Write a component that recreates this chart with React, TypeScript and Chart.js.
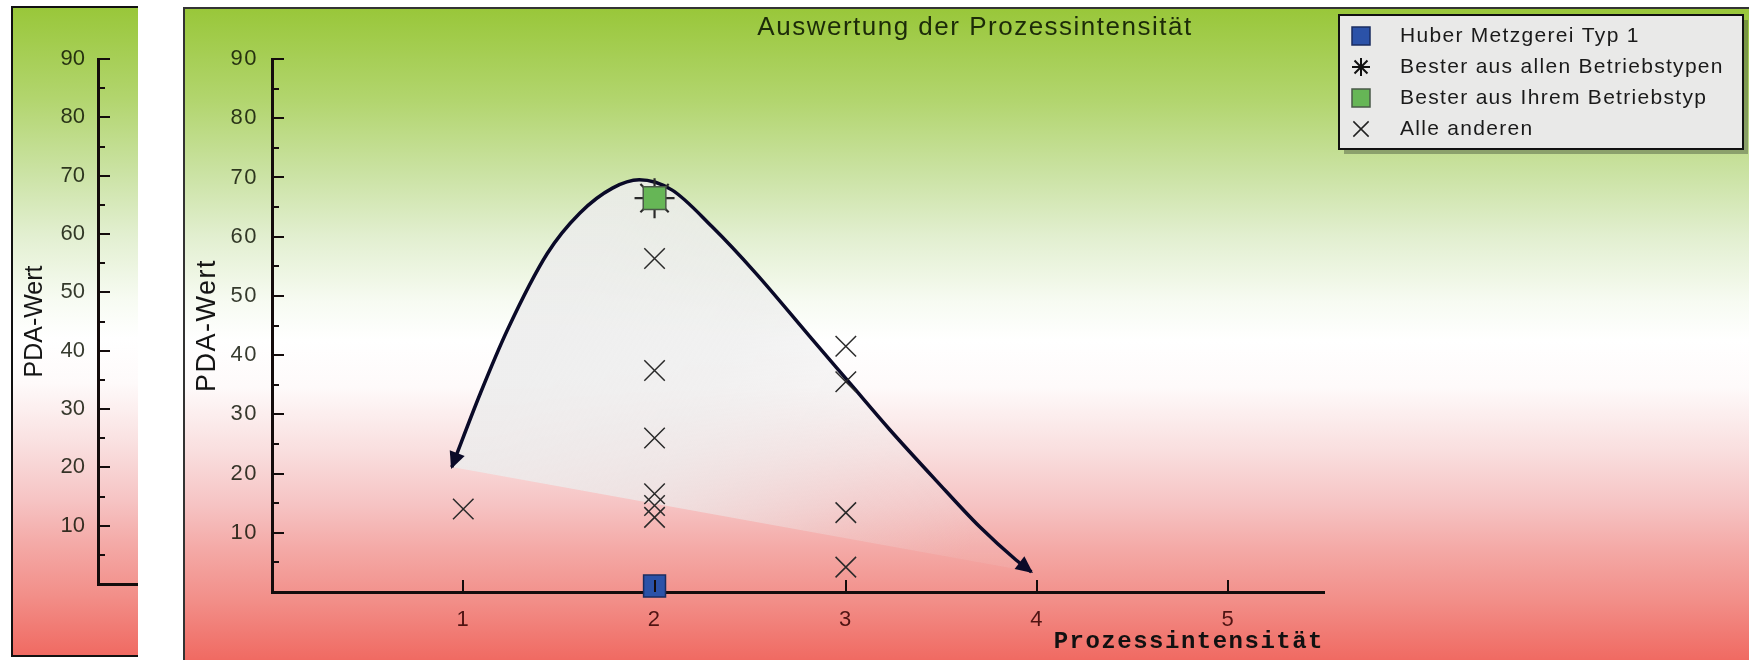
import React, { useEffect, useRef } from 'react';
import { Chart, registerables } from 'chart.js';

Chart.register(...registerables);

// ---------------- data ----------------
const chartTitle = 'Auswertung der Prozessintensität';
const xAxisTitle = 'Prozessintensität';
const yAxisTitle = 'PDA-Wert';

const xRange = [0, 5.5];
const yRange = [0, 90];
const xTickValues = [1, 2, 3, 4, 5];
const yTickValues = [10, 20, 30, 40, 50, 60, 70, 80, 90];
const yMinorTickValues = [5, 15, 25, 35, 45, 55, 65, 75, 85];

const seriesLabels = [
  'Huber Metzgerei Typ 1',
  'Bester aus allen Betriebstypen',
  'Bester aus Ihrem Betriebstyp',
  'Alle anderen',
];

const huberX = [2];
const huberY = [1];
const bestAllX = [2];
const bestAllY = [66.5];
const bestOwnX = [2];
const bestOwnY = [66.5];
const othersX = [1, 2, 2, 2, 2, 2, 2, 3, 3, 3, 3];
const othersY = [14, 56.3, 37.4, 26, 16.6, 14.6, 12.6, 41.5, 35.5, 13.4, 4.2];

// hand-drawn trend arrow
const trendX = [0.94, 1.09, 1.23, 1.44, 1.61, 1.78, 1.92, 2.09, 2.3, 2.53, 2.81, 3.02, 3.23, 3.47, 3.7, 3.89, 3.97];
const trendY = [21.1, 33.6, 44.2, 57.2, 64.0, 68.2, 69.6, 67.9, 61.7, 53.8, 43.2, 35.3, 27.4, 18.9, 11.0, 5.4, 3.4];

// ---------------- styles ----------------
const SANS = '"Liberation Sans", Arial, sans-serif';
const MONO = '"Liberation Mono", "DejaVu Sans Mono", monospace';
const AXIS_COLOR = '#140c0c';
const CURVE_COLOR = '#0a0a28';
const PANEL_GRADIENT =
  'linear-gradient(to bottom, #99c73a 0%, #b2d56e 14%, #cae2a2 25%, #e2efd0 35%, #f7fbf2 45%, #ffffff 51%, #fefafa 58%, #f9dede 68%, #f6c4c4 76%, #f4a9a6 83%, #f28e88 91%, #f06a62 100%)';

const toPoints = (xs: number[], ys: number[]) => xs.map((x, i) => ({ x, y: ys[i] }));

// ---------------- plugins ----------------
const tickMarksPlugin = {
  id: 'tickMarks',
  afterDraw(chart: any, _args: any, opts: any) {
    const { ctx, chartArea, scales } = chart;
    const xs = scales.x;
    const ys = scales.y;
    ctx.save();
    ctx.strokeStyle = opts.color;
    ctx.lineWidth = opts.width;
    ctx.beginPath();
    (opts.yMajor || []).forEach((v: number) => {
      const p = Math.round(ys.getPixelForValue(v));
      ctx.moveTo(chartArea.left, p);
      ctx.lineTo(chartArea.left + opts.majorLength, p);
    });
    (opts.yMinor || []).forEach((v: number) => {
      const p = Math.round(ys.getPixelForValue(v));
      ctx.moveTo(chartArea.left, p);
      ctx.lineTo(chartArea.left + opts.minorLength, p);
    });
    (opts.xMajor || []).forEach((v: number) => {
      const p = Math.round(xs.getPixelForValue(v));
      ctx.moveTo(p, chartArea.bottom);
      ctx.lineTo(p, chartArea.bottom - opts.majorLength);
    });
    ctx.stroke();
    ctx.restore();
  },
};

const arrowHeadsPlugin = {
  id: 'arrowHeads',
  afterDatasetsDraw(chart: any, _args: any, opts: any) {
    if (!opts || opts.datasetIndex === undefined) return;
    const meta = chart.getDatasetMeta(opts.datasetIndex);
    const pts = meta && meta.data;
    if (!pts || pts.length < 2) return;
    const ctx = chart.ctx;
    const head = (tip: any, fromX: number, fromY: number) => {
      let dx = tip.x - fromX;
      let dy = tip.y - fromY;
      const len = Math.hypot(dx, dy) || 1;
      dx /= len;
      dy /= len;
      const L = opts.length;
      const W = opts.halfWidth;
      const tx = tip.x + dx * 2;
      const ty = tip.y + dy * 2;
      const bx = tx - dx * L;
      const by = ty - dy * L;
      ctx.beginPath();
      ctx.moveTo(tx, ty);
      ctx.lineTo(bx - dy * W, by + dx * W);
      ctx.lineTo(bx + dy * W, by - dx * W);
      ctx.closePath();
      ctx.fill();
    };
    ctx.save();
    ctx.fillStyle = opts.color;
    const first = pts[0];
    const second = pts[1];
    const last = pts[pts.length - 1];
    const prev = pts[pts.length - 2];
    const okFirst = Number.isFinite(first.cp2x) && Math.hypot(first.cp2x - first.x, first.cp2y - first.y) > 0.5;
    head(first, okFirst ? first.cp2x : second.x, okFirst ? first.cp2y : second.y);
    const okLast = Number.isFinite(last.cp1x) && Math.hypot(last.cp1x - last.x, last.cp1y - last.y) > 0.5;
    head(last, okLast ? last.cp1x : prev.x, okLast ? last.cp1y : prev.y);
    ctx.restore();
  },
};

function drawIcon(ctx: any, style: string, cx: number, cy: number, size: number, ds: any) {
  const h = size / 2;
  ctx.save();
  if (style === 'rect') {
    ctx.fillStyle = ds.backgroundColor;
    ctx.strokeStyle = ds.borderColor;
    ctx.lineWidth = 1.5;
    ctx.fillRect(cx - h, cy - h, size, size);
    ctx.strokeRect(cx - h, cy - h, size, size);
  } else if (style === 'star') {
    const d = h * 0.72;
    ctx.strokeStyle = '#111';
    ctx.lineWidth = 2;
    ctx.beginPath();
    ctx.moveTo(cx - h, cy);
    ctx.lineTo(cx + h, cy);
    ctx.moveTo(cx, cy - h);
    ctx.lineTo(cx, cy + h);
    ctx.moveTo(cx - d, cy - d);
    ctx.lineTo(cx + d, cy + d);
    ctx.moveTo(cx - d, cy + d);
    ctx.lineTo(cx + d, cy - d);
    ctx.stroke();
  } else {
    const d = h * 0.85;
    ctx.strokeStyle = '#222';
    ctx.lineWidth = 1.5;
    ctx.beginPath();
    ctx.moveTo(cx - d, cy - d);
    ctx.lineTo(cx + d, cy + d);
    ctx.moveTo(cx - d, cy + d);
    ctx.lineTo(cx + d, cy - d);
    ctx.stroke();
  }
  ctx.restore();
}

const boxLegendPlugin = {
  id: 'boxLegend',
  afterDraw(chart: any, _args: any, opts: any) {
    if (!opts || !opts.display) return;
    const { ctx } = chart;
    const { x, y, width, height, firstRowY, rowGap, iconX, textX, iconSize } = opts;
    ctx.save();
    ctx.fillStyle = 'rgba(70,85,60,0.45)';
    ctx.fillRect(x + 5, y + 5, width, height);
    ctx.fillStyle = '#e9e9e8';
    ctx.fillRect(x, y, width, height);
    ctx.lineWidth = 2;
    ctx.strokeStyle = '#111';
    ctx.strokeRect(x, y, width, height);
    ctx.font = `21px ${SANS}`;
    ctx.textBaseline = 'middle';
    ctx.textAlign = 'left';
    (ctx as any).letterSpacing = '1.3px';
    seriesLabels.forEach((label, i) => {
      const ds = chart.data.datasets.find((d: any) => d.label === label);
      if (!ds) return;
      const cy = firstRowY + i * rowGap;
      drawIcon(ctx, ds.pointStyle, iconX, cy, iconSize, ds);
      ctx.fillStyle = '#1a1a1a';
      ctx.fillText(label, textX, cy);
    });
    ctx.restore();
  },
};

// letter spacing only for the chart title (drawn in the z<=0 layer before datasets)
const titleSpacingPlugin = {
  id: 'titleSpacing',
  beforeDraw(chart: any) {
    (chart.ctx as any).letterSpacing = '1.5px';
  },
  beforeDatasetsDraw(chart: any) {
    (chart.ctx as any).letterSpacing = '0px';
  },
};

export default function App() {
  const mainRef = useRef<HTMLCanvasElement | null>(null);
  const leftRef = useRef<HTMLCanvasElement | null>(null);

  useEffect(() => {
    if (!mainRef.current || !leftRef.current) return;

    const fillGradient = (c: any) => {
      const chart = c.chart;
      if (!chart.chartArea) return 'rgba(236,236,236,0.75)';
      const xs = chart.scales.x;
      const ys = chart.scales.y;
      const g = chart.ctx.createLinearGradient(
        xs.getPixelForValue(1.5),
        ys.getPixelForValue(45),
        xs.getPixelForValue(3.6),
        ys.getPixelForValue(5)
      );
      g.addColorStop(0, 'rgba(236,236,236,0.86)');
      g.addColorStop(0.35, 'rgba(236,236,236,0.72)');
      g.addColorStop(0.75, 'rgba(236,236,236,0.28)');
      g.addColorStop(1, 'rgba(236,236,236,0.1)');
      return g;
    };

    const trendPoints = toPoints(trendX, trendY);
    const edgePoints = [trendPoints[0], trendPoints[trendPoints.length - 1]];

    const main = new Chart(mainRef.current, {
      type: 'scatter',
      data: {
        datasets: [
          {
            type: 'line',
            label: 'Trend',
            data: trendPoints,
            borderColor: CURVE_COLOR,
            borderWidth: 3.5,
            pointRadius: 0,
            cubicInterpolationMode: 'monotone',
            fill: '+1',
            backgroundColor: fillGradient,
            order: 6,
            clip: false,
          } as any,
          {
            type: 'line',
            label: 'Trend-Basis',
            data: edgePoints,
            borderColor: 'rgba(0,0,0,0)',
            borderWidth: 0,
            pointRadius: 0,
            fill: false,
            order: 7,
          } as any,
          {
            label: seriesLabels[0],
            data: toPoints(huberX, huberY),
            pointStyle: 'rect',
            pointRadius: 15.5,
            backgroundColor: '#2b52a8',
            borderColor: '#1a2c60',
            borderWidth: 1.5,
            order: 4,
            clip: false,
          },
          {
            label: seriesLabels[1],
            data: toPoints(bestAllX, bestAllY),
            pointStyle: 'star',
            pointRadius: 20,
            backgroundColor: 'rgba(0,0,0,0)',
            borderColor: '#2a2a2a',
            borderWidth: 2.2,
            order: 2,
            clip: false,
          },
          {
            label: seriesLabels[2],
            data: toPoints(bestOwnX, bestOwnY),
            pointStyle: 'rect',
            pointRadius: 16,
            backgroundColor: '#66b656',
            borderColor: '#4a5a48',
            borderWidth: 1.5,
            order: 1,
            clip: false,
          },
          {
            label: seriesLabels[3],
            data: toPoints(othersX, othersY),
            pointStyle: 'crossRot',
            pointRadius: 14.5,
            backgroundColor: 'rgba(0,0,0,0)',
            borderColor: '#2a2a2a',
            borderWidth: 1.5,
            order: 3,
            clip: false,
          },
        ],
      },
      options: {
        animation: false,
        responsive: false,
        events: [],
        layout: { padding: 0 },
        scales: {
          x: {
            type: 'linear',
            min: xRange[0],
            max: xRange[1],
            z: 1,
            afterBuildTicks: (s: any) => {
              s.ticks = xTickValues.map((value) => ({ value }));
            },
            afterFit: (s: any) => {
              s.height = 68;
            },
            grid: { display: false, drawTicks: false },
            border: { display: true, color: AXIS_COLOR, width: 3 },
            ticks: {
              padding: 15,
              maxRotation: 0,
              autoSkip: false,
              color: 'rgba(50,0,0,0.85)',
              font: { family: SANS, size: 22 },
            },
            title: {
              display: true,
              text: xAxisTitle,
              align: 'end',
              color: '#111',
              font: { family: MONO, size: 24, weight: 'bold' },
              padding: { top: 0, bottom: 4 },
            },
          },
          y: {
            type: 'linear',
            min: yRange[0],
            max: yRange[1],
            z: 1,
            afterBuildTicks: (s: any) => {
              s.ticks = yTickValues.map((value) => ({ value }));
            },
            afterFit: (s: any) => {
              s.width = 87;
            },
            grid: { display: false, drawTicks: false },
            border: { display: true, color: AXIS_COLOR, width: 3 },
            ticks: {
              padding: 14,
              color: 'rgba(10,15,0,0.82)',
              font: { family: SANS, size: 22 },
            },
            title: {
              display: true,
              text: yAxisTitle,
              color: '#151515',
              font: { family: SANS, size: 27 },
              padding: { top: 6, bottom: 0 },
            },
          },
          legendSpace: {
            type: 'linear',
            position: 'right',
            display: true,
            min: 0,
            max: 1,
            afterFit: (s: any) => {
              s.width = 441;
            },
            grid: { display: false, drawTicks: false },
            border: { display: false },
            ticks: { display: false },
          },
        } as any,
        plugins: {
          legend: { display: false },
          tooltip: { enabled: false },
          title: {
            display: true,
            text: chartTitle,
            color: 'rgba(10,20,0,0.88)',
            font: { family: SANS, size: 26, weight: 'normal' },
            padding: { top: 3, bottom: 15.8 },
          },
          tickMarks: {
            yMajor: yTickValues,
            yMinor: yMinorTickValues,
            xMajor: xTickValues,
            majorLength: 12,
            minorLength: 7,
            width: 2,
            color: AXIS_COLOR,
          },
          arrowHeads: { datasetIndex: 0, length: 17, halfWidth: 8, color: CURVE_COLOR },
          boxLegend: {
            display: true,
            x: 1154,
            y: 6,
            width: 404,
            height: 134,
            firstRowY: 27,
            rowGap: 31,
            iconX: 1176,
            textX: 1215,
            iconSize: 18,
          },
        } as any,
      },
      plugins: [titleSpacingPlugin, tickMarksPlugin, arrowHeadsPlugin, boxLegendPlugin],
    } as any);

    const left = new Chart(leftRef.current, {
      type: 'scatter',
      data: { datasets: [] },
      options: {
        animation: false,
        responsive: false,
        events: [],
        layout: { padding: { top: 51, left: 0, right: 0, bottom: 0 } },
        scales: {
          x: {
            type: 'linear',
            min: 0,
            max: 1,
            afterFit: (s: any) => {
              s.height = 71;
            },
            grid: { display: false, drawTicks: false },
            border: { display: true, color: AXIS_COLOR, width: 3 },
            ticks: { display: false },
          },
          y: {
            type: 'linear',
            min: yRange[0],
            max: yRange[1],
            afterBuildTicks: (s: any) => {
              s.ticks = yTickValues.map((value) => ({ value }));
            },
            afterFit: (s: any) => {
              s.width = 85;
            },
            grid: { display: false, drawTicks: false },
            border: { display: true, color: AXIS_COLOR, width: 3 },
            ticks: {
              padding: 13,
              color: 'rgba(10,15,0,0.82)',
              font: { family: SANS, size: 22 },
            },
            title: {
              display: true,
              text: yAxisTitle,
              color: '#151515',
              font: { family: SANS, size: 25 },
              padding: { top: 7, bottom: 0 },
            },
          },
        } as any,
        plugins: {
          legend: { display: false },
          tooltip: { enabled: false },
          title: { display: false },
          tickMarks: {
            yMajor: yTickValues,
            yMinor: yMinorTickValues,
            xMajor: [],
            majorLength: 12,
            minorLength: 7,
            width: 2,
            color: AXIS_COLOR,
          },
        } as any,
      },
      plugins: [tickMarksPlugin],
    } as any);

    return () => {
      main.destroy();
      left.destroy();
    };
  }, []);

  return (
    <div
      style={{
        position: 'absolute',
        left: 0,
        top: 0,
        width: 1749,
        height: 660,
        overflow: 'hidden',
        background: '#ffffff',
      }}
    >
      <div
        style={{
          position: 'absolute',
          left: 11,
          top: 6,
          width: 127,
          height: 651,
          boxSizing: 'border-box',
          borderLeft: '2px solid #111',
          borderTop: '2px solid #111',
          borderBottom: '2px solid #111',
          background: PANEL_GRADIENT,
        }}
      />
      <canvas
        ref={leftRef}
        width={125}
        height={647}
        style={{ position: 'absolute', left: 13, top: 8, width: 125, height: 647 }}
      />
      <div
        style={{
          position: 'absolute',
          left: 183,
          top: 7,
          width: 1566,
          height: 653,
          boxSizing: 'border-box',
          borderLeft: '2px solid #333',
          borderTop: '2px solid #333',
          background: PANEL_GRADIENT,
        }}
      />
      <canvas
        ref={mainRef}
        width={1580}
        height={651}
        style={{ position: 'absolute', left: 185, top: 9, width: 1580, height: 651 }}
      />
    </div>
  );
}
